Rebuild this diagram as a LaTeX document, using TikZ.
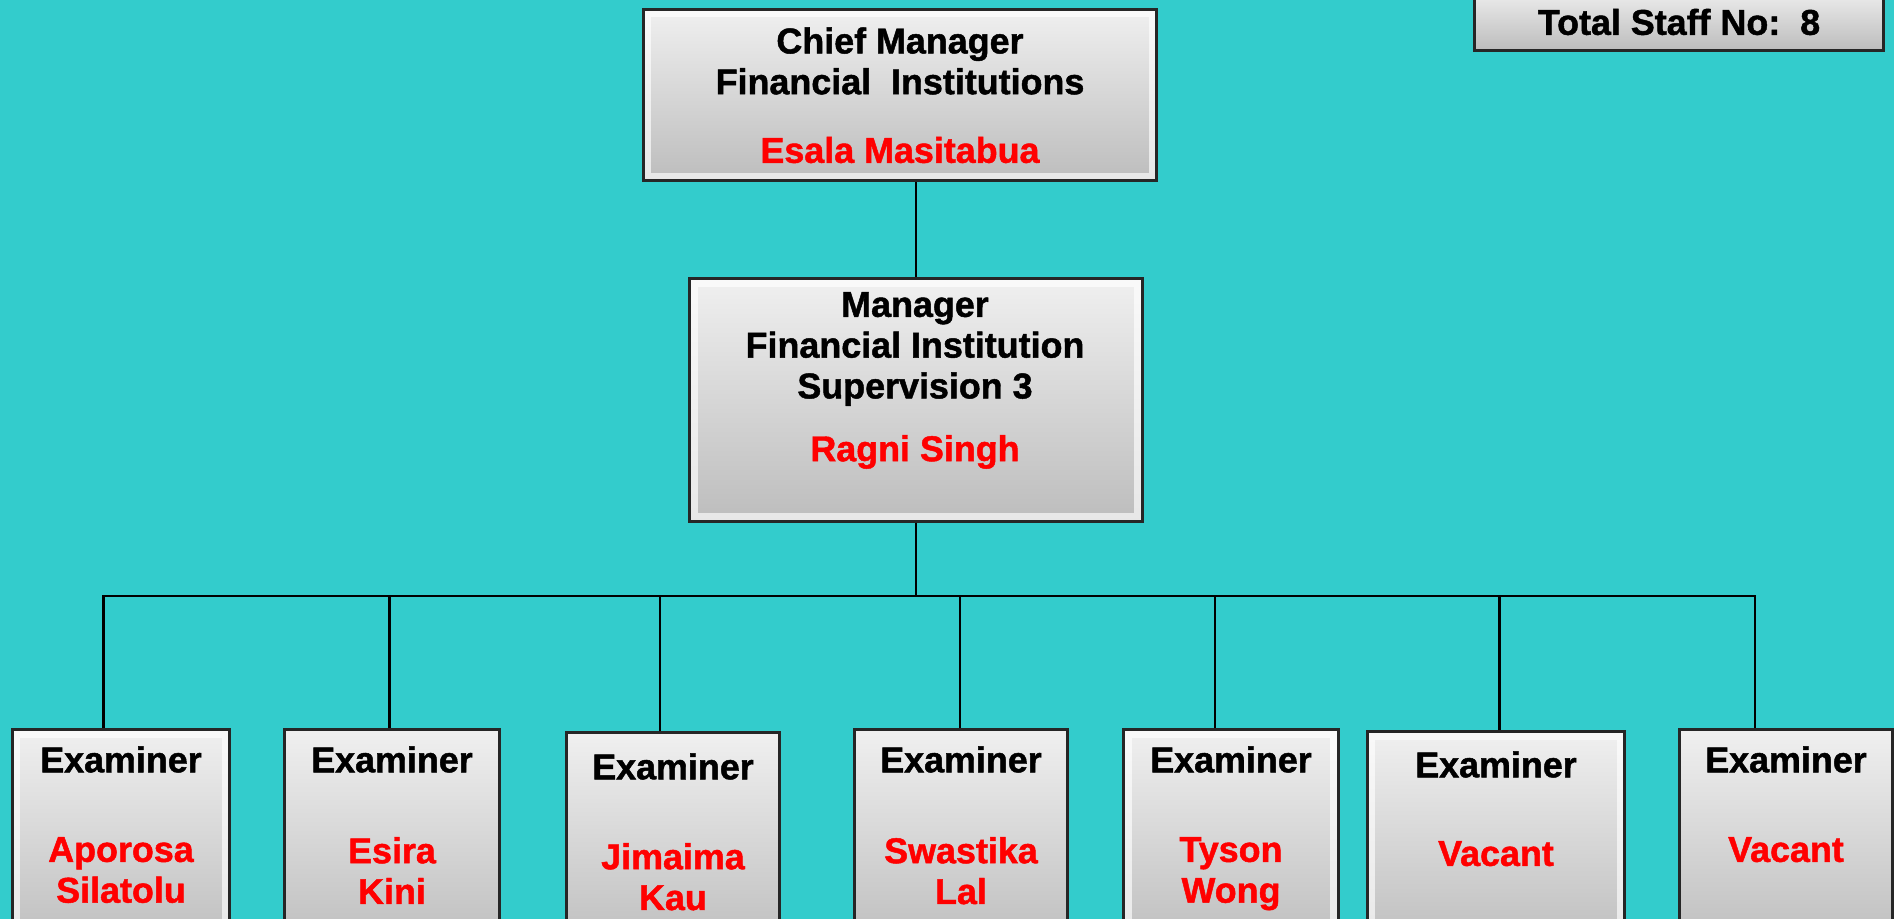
\documentclass[tikz,border=0pt]{standalone}
\usepackage{fontspec}
\setmainfont{Liberation Sans}[BoldFeatures={FakeBold=1.3}]
\usepackage{xcolor}
\usetikzlibrary{positioning}
\definecolor{sea}{RGB}{51,204,204}
\definecolor{namered}{RGB}{255,0,0}

\begin{document}
\begin{tikzpicture}[x=0.01cm,y=-0.01cm,
		box/.style = {rectangle, draw=black!85, line width=0.85pt, top color=black!6, bottom color=black!26, inner sep=0pt},
		bevel/.style = {path picture={\draw[white,opacity=.65,line width=0.16cm] (path picture bounding box.south west) rectangle (path picture bounding box.north east);}},
		txt/.style = {font=\bfseries\fontsize{10.2}{11.6}\selectfont, align=center, inner sep=0pt},
		who/.style = {txt, text=namered},
		link/.style = {line width=0.7pt}]

		% Background
		\useasboundingbox (0,0) rectangle (1894,919);
		\clip (0,0) rectangle (1894,919);
		\fill[sea] (0,0) rectangle (1894,919);

		% Chief manager
		\node[box,bevel,minimum width=5.13cm,minimum height=1.71cm] (boss) at (900,95) {};
		\node[txt] (bossT) at (900,61) {Chief Manager\\Financial\ \ Institutions};
		\node[who] (bossN) at (900,150) {Esala Masitabua};

		% Manager
		\node[box,bevel,minimum width=4.52cm,minimum height=2.42cm] (mgr) at (916,400) {};
		\node[txt] (mgrT) at (915,349) {Manager\\Financial Institution\\Supervision 3};
		\node[who] (mgrN) at (915,452) {Ragni Singh};

		% Staff count
		\node[box,minimum width=4.08cm,minimum height=0.62cm] (total) at (1679,19) {};
		\node[txt] (totalT) at (1679,22) {Total Staff No:\ \ 8};

		% Examiners
		\node[box,bevel,minimum width=2.17cm,minimum height=2.2cm] (e1) at (121,840) {};
		\node[box,minimum width=2.15cm,minimum height=2.2cm] (e2) at (392,840) {};
		\node[box,minimum width=2.12cm,minimum height=2.2cm] (e3) at (673,843) {};
		\node[box,minimum width=2.12cm,minimum height=2.2cm] (e4) at (961,840) {};
		\node[box,bevel,minimum width=2.14cm,minimum height=2.2cm] (e5) at (1231,840) {};
		\node[box,bevel,minimum width=2.57cm,minimum height=2.2cm] (e6) at (1496,842) {};
		\node[box,minimum width=2.12cm,minimum height=2.2cm] (e7) at (1786,840) {};

		\foreach \i/\dy in {1/0,2/0,3/4,4/0,5/0,6/3,7/0}
			\node[txt] (t\i) at ([yshift=-\dy*0.01cm-0.31cm]e\i.north) {Examiner};

		\foreach \i/\who/\dy in {1/Aporosa\\Silatolu/0, 2/Esira\\Kini/0, 3/Jimaima\\Kau/3,
				4/Swastika\\Lal/0, 5/Tyson\\Wong/0, 6/Vacant/2, 7/Vacant/0}
			\node[who,anchor=north] (n\i) at ([yshift=-\dy*0.01cm-1.08cm]e\i.north) {\who};

		% Connectors
		\draw[link] (mgr.north |- boss.south) -- (mgr.north);
		\coordinate (bus) at (mgr.south |- 0,596);
		\draw[link] (mgr.south) -- (bus);
		\foreach \i/\dx in {1/-0.175,2/-0.025,3/-0.13,4/-0.01,5/-0.16,6/0.035,7/-0.31}
			\draw[link] ([xshift=\dx cm]e\i.north) |- (bus);
\end{tikzpicture}
\end{document}
